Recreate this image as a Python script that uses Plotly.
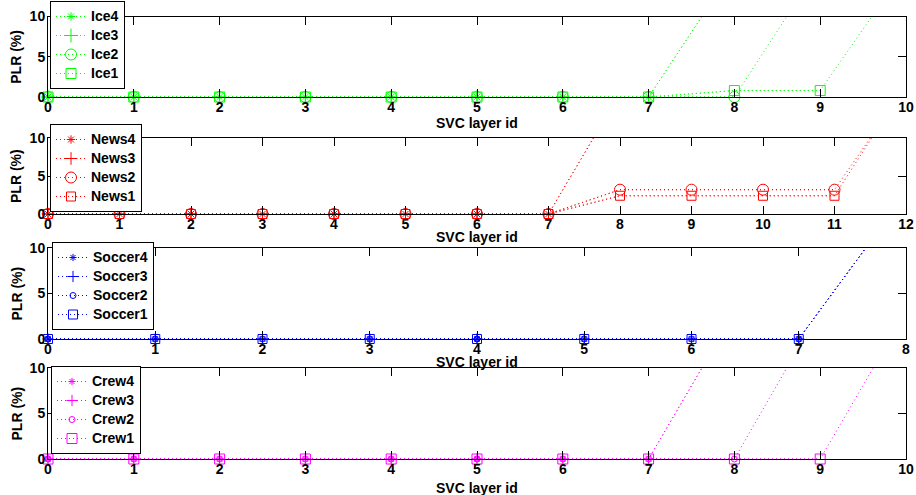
import plotly.graph_objects as go

# ---------------- data ----------------
ice_ticks = [0, 1, 2, 3, 4, 5, 6, 7, 8, 9, 10]
news_ticks = [0, 1, 2, 3, 4, 5, 6, 7, 8, 9, 10, 11, 12]
soccer_ticks = [0, 1, 2, 3, 4, 5, 6, 7, 8]
crew_ticks = [0, 1, 2, 3, 4, 5, 6, 7, 8, 9, 10]
plr_ticks = [0, 5, 10]

ice4 = [0, 0, 0, 0, 0, 0, 0, 0, 16.1]
ice3 = [0, 0, 0, 0, 0, 0, 0, 0, 16.1]
ice2 = [0, 0, 0, 0, 0, 0, 0, 0, 0, 16.4]
ice1 = [0, 0, 0, 0, 0, 0, 0, 0, 0.8, 0.8, 16.1]

news4 = [0, 0, 0, 0, 0, 0, 0, 0, 15.9]
news3 = [0, 0, 0, 0, 0, 0, 0, 0, 15.9]
news2 = [0, 0, 0, 0, 0, 0, 0, 0, 3.2, 3.2, 3.2, 3.2, 16.8]
news1 = [0, 0, 0, 0, 0, 0, 0, 0, 2.4, 2.4, 2.4, 2.4, 17.0]

soccer4 = [0, 0, 0, 0, 0, 0, 0, 0, 16.0]
soccer3 = [0, 0, 0, 0, 0, 0, 0, 0, 16.0]
soccer2 = [0, 0, 0, 0, 0, 0, 0, 0, 16.0]
soccer1 = [0, 0, 0, 0, 0, 0, 0, 0, 16.0]

crew4 = [0, 0, 0, 0, 0, 0, 0, 0, 16.1]
crew3 = [0, 0, 0, 0, 0, 0, 0, 0, 16.1]
crew2 = [0, 0, 0, 0, 0, 0, 0, 0, 0, 16.4]
crew1 = [0, 0, 0, 0, 0, 0, 0, 0, 0, 0, 16.2]

x_title = "SVC layer id"
y_title = "PLR (%)"

# ---------------- styling ----------------
W, H = 916, 495
FONT = "Liberation Sans, Arial, Helvetica, sans-serif"
X0, X1 = 48, 906
# (top, bottom) pixel rows of each panel
rows = [(16.5, 97), (138, 214), (248, 339), (368, 459)]
legend_pos = [(50, 1), (50, 124), (52, 242), (51, 366)]
xtitle_y = [123, 237, 362, 488]

symbols = ["asterisk-open", "cross-thin-open", "circle-open", "square-open"]

panels = [
    dict(color="#00ff00", ticks=ice_ticks,
         series=[("Ice4", ice4), ("Ice3", ice3), ("Ice2", ice2), ("Ice1", ice1)],
         sizes=[7, 10, 11, 10]),
    dict(color="#ff0000", ticks=news_ticks,
         series=[("News4", news4), ("News3", news3), ("News2", news2), ("News1", news1)],
         sizes=[7, 9, 11, 9]),
    dict(color="#0000ff", ticks=soccer_ticks,
         series=[("Soccer4", soccer4), ("Soccer3", soccer3), ("Soccer2", soccer2), ("Soccer1", soccer1)],
         sizes=[6, 8, 6, 9]),
    dict(color="#ff00ff", ticks=crew_ticks,
         series=[("Crew4", crew4), ("Crew3", crew3), ("Crew2", crew2), ("Crew1", crew1)],
         sizes=[6, 8, 6, 10]),
]

fig = go.Figure()
annotations = []
YMAX = plr_ticks[-1]

for i, p in enumerate(panels):
    k = "" if i == 0 else str(i + 1)
    xa, ya = "x" + k, "y" + k
    leg = "legend" + k
    for j, (name, ys) in enumerate(p["series"]):
        xs = list(range(len(ys)))
        line = dict(color=p["color"], width=1, dash="1px,3px")
        # full line (clipped by axes)
        fig.add_trace(go.Scatter(x=xs, y=ys, mode="lines", line=line,
                                 xaxis=xa, yaxis=ya, showlegend=False,
                                 hoverinfo="skip"))
        # in-range points with markers (markers not clipped so they sit on the frame)
        vis = [(xv, yv) for xv, yv in zip(xs, ys) if yv <= YMAX]
        fig.add_trace(go.Scatter(
            x=[v[0] for v in vis], y=[v[1] for v in vis], mode="lines+markers",
            name='<span style="font-size:14px">' + name + '</span>',
            line=line, legend=leg, xaxis=xa, yaxis=ya,
            cliponaxis=False,
            marker=dict(symbol=symbols[j], size=p["sizes"][j],
                        color=p["color"], line=dict(color=p["color"], width=1))))

    top, bot = rows[i]
    common = dict(showline=True, linecolor="black", linewidth=1, mirror="ticks",
                  ticks="inside", ticklen=8, tickcolor="black", tickwidth=1,
                  showgrid=False, zeroline=False, fixedrange=True, automargin=False,
                  tickfont=dict(family=FONT, size=14, color="black", weight="bold"))
    fig.update_layout(**{
        ("xaxis" + k): dict(domain=[X0 / W, X1 / W], anchor=ya,
                            range=[p["ticks"][0], p["ticks"][-1]],
                            tickvals=p["ticks"], ticktext=[str(t) for t in p["ticks"]],
                            ticklabelstandoff=-3, **common),
        ("yaxis" + k): dict(domain=[1 - bot / H, 1 - top / H], anchor=xa,
                            range=[plr_ticks[0], plr_ticks[-1]],
                            tickvals=plr_ticks, ticktext=[str(t) for t in plr_ticks],
                            ticklabelstandoff=-1, **common),
        leg: dict(x=legend_pos[i][0] / W, y=1 - legend_pos[i][1] / H,
                  xanchor="left", yanchor="top", bgcolor="white",
                  bordercolor="black", borderwidth=1, tracegroupgap=0,
                  font=dict(family=FONT, size=12, color="black", weight="bold")),
    })
    annotations.append(dict(text=x_title, x=(X0 + X1) / 2 / W, y=1 - xtitle_y[i] / H,
                            xref="paper", yref="paper", showarrow=False,
                            xanchor="center", yanchor="middle",
                            font=dict(family=FONT, size=14, color="black", weight="bold")))
    annotations.append(dict(text=y_title, x=16 / W, y=1 - (top + bot) / 2 / H,
                            xref="paper", yref="paper", showarrow=False, textangle=-90,
                            xanchor="center", yanchor="middle",
                            font=dict(family=FONT, size=14, color="black", weight="bold")))

fig.update_layout(width=W, height=H, margin=dict(l=0, r=0, t=0, b=0, autoexpand=False),
                  paper_bgcolor="white", plot_bgcolor="white",
                  annotations=annotations, showlegend=True)

fig.write_html("out.html")
